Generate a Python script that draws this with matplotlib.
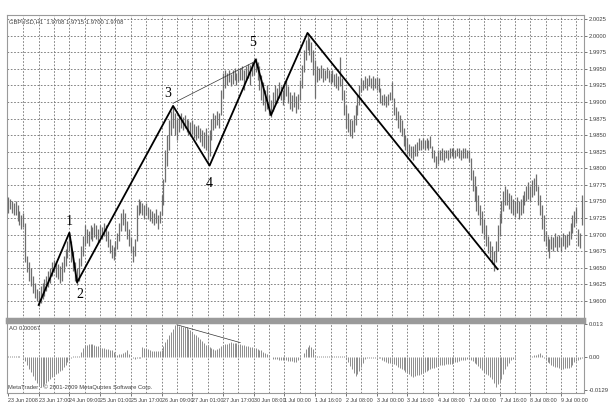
import numpy as np
import matplotlib
matplotlib.use("Agg")
import matplotlib.pyplot as plt

# GBPUSD H1 bars, prices in pips (1.9735 -> 19735)
highs = [
    19757, 19754, 19751, 19747, 19751, 19744, 19736, 19729, 19733, 19718,
    19668, 19658, 19649, 19638, 19627, 19618, 19615, 19623, 19627, 19633,
    19638, 19645, 19649, 19658, 19661, 19658, 19655, 19652, 19658, 19668,
    19679, 19691, 19703, 19691, 19676, 19658, 19649, 19664, 19683, 19698,
    19714, 19709, 19706, 19715, 19712, 19718, 19714, 19709, 19715, 19712,
    19718, 19714, 19706, 19694, 19685, 19682, 19691, 19703, 19718, 19733,
    19739, 19733, 19721, 19709, 19697, 19683, 19694, 19744, 19754, 19751,
    19748, 19744, 19747, 19742, 19739, 19736, 19733, 19739, 19730, 19736,
    19759, 19784, 19827, 19850, 19872, 19887, 19893, 19884, 19875, 19880,
    19884, 19878, 19881, 19875, 19872, 19869, 19872, 19866, 19863, 19865,
    19860, 19857, 19854, 19860, 19850, 19857, 19875, 19884, 19880, 19887,
    19884, 19918, 19944, 19948, 19944, 19948, 19942, 19948, 19951, 19944,
    19948, 19951, 19954, 19948, 19954, 19957, 19955, 19960, 19963, 19966,
    19960, 19954, 19940, 19930, 19918, 19925, 19910, 19903, 19915, 19925,
    19921, 19930, 19924, 19918, 19927, 19933, 19924, 19915, 19910, 19915,
    19909, 19912, 19933, 19955, 19978, 19993, 20004, 19996, 19990, 19978,
    19963, 19954, 19951, 19955, 19951, 19948, 19952, 19948, 19944, 19948,
    19942, 19944, 19939, 19968, 19936, 19918, 19895, 19884, 19875, 19872,
    19880, 19895, 19910, 19925, 19936, 19933, 19939, 19936, 19940, 19936,
    19939, 19936, 19937, 19936, 19921, 19910, 19912, 19909, 19912, 19915,
    19930, 19906, 19893, 19887, 19880, 19872, 19860, 19850, 19845, 19837,
    19834, 19833, 19836, 19839, 19845, 19842, 19846, 19843, 19845, 19842,
    19848, 19834, 19827, 19819, 19827, 19827, 19830, 19827, 19828, 19827,
    19830, 19831, 19830, 19828, 19831, 19830, 19828, 19830, 19831, 19828,
    19827, 19815, 19797, 19789, 19774, 19759, 19744, 19736, 19724, 19714,
    19698, 19691, 19683, 19676, 19691, 19714, 19733, 19751, 19766, 19774,
    19769, 19763, 19759, 19754, 19751, 19757, 19751, 19754, 19759, 19766,
    19774, 19779, 19774, 19782, 19785, 19791, 19774, 19759, 19744, 19729,
    19706, 19698, 19694, 19698, 19697, 19703, 19698, 19700, 19697, 19703,
    19700, 19701, 19706, 19718, 19729, 19736, 19741, 19709, 19703, 19759,
]
lows = [
    19733, 19739, 19733, 19729, 19730, 19721, 19715, 19709, 19712, 19658,
    19643, 19630, 19623, 19612, 19605, 19600, 19593, 19597, 19603, 19608,
    19615, 19621, 19627, 19638, 19643, 19636, 19633, 19627, 19630, 19643,
    19652, 19664, 19676, 19658, 19645, 19630, 19624, 19630, 19653, 19668,
    19683, 19688, 19683, 19694, 19691, 19697, 19694, 19688, 19697, 19694,
    19698, 19691, 19682, 19673, 19664, 19661, 19668, 19679, 19691, 19706,
    19714, 19706, 19694, 19683, 19673, 19658, 19668, 19691, 19730, 19733,
    19729, 19724, 19729, 19724, 19721, 19718, 19714, 19718, 19709, 19718,
    19729, 19744, 19779, 19804, 19827, 19850, 19860, 19850, 19842, 19854,
    19860, 19857, 19860, 19854, 19850, 19848, 19851, 19845, 19842, 19845,
    19839, 19834, 19830, 19827, 19812, 19819, 19842, 19857, 19860, 19865,
    19860, 19880, 19906, 19921, 19925, 19930, 19924, 19927, 19933, 19925,
    19930, 19933, 19933, 19918, 19933, 19936, 19925, 19939, 19940, 19945,
    19933, 19918, 19903, 19895, 19887, 19890, 19880, 19878, 19887, 19896,
    19899, 19906, 19903, 19895, 19903, 19909, 19899, 19890, 19887, 19893,
    19884, 19890, 19903, 19921, 19945, 19963, 19978, 19971, 19960, 19940,
    19906, 19930, 19933, 19936, 19930, 19933, 19936, 19930, 19927, 19930,
    19924, 19921, 19918, 19924, 19903, 19880, 19860, 19854, 19848, 19845,
    19854, 19865, 19880, 19895, 19915, 19918, 19921, 19918, 19924, 19921,
    19918, 19921, 19918, 19915, 19898, 19896, 19895, 19893, 19896, 19903,
    19903, 19880, 19872, 19860, 19854, 19848, 19834, 19827, 19822, 19819,
    19815, 19812, 19818, 19819, 19827, 19827, 19830, 19827, 19830, 19827,
    19830, 19815, 19809, 19801, 19806, 19812, 19812, 19809, 19815, 19812,
    19815, 19818, 19816, 19815, 19818, 19815, 19812, 19815, 19816, 19815,
    19809, 19782, 19766, 19751, 19736, 19729, 19714, 19703, 19694, 19683,
    19673, 19664, 19655, 19645, 19658, 19676, 19698, 19718, 19736, 19744,
    19744, 19739, 19733, 19730, 19727, 19733, 19724, 19729, 19733, 19744,
    19751, 19754, 19751, 19757, 19759, 19766, 19744, 19729, 19709, 19691,
    19683, 19676, 19665, 19679, 19676, 19682, 19676, 19682, 19676, 19683,
    19679, 19682, 19685, 19694, 19703, 19712, 19718, 19683, 19680, 19714,
]

# Awesome Oscillator, units of 1e-4
ao = [
    6, 5, 6, 5, 4, 5, 3, 2,
    -4, -15, -30, -45, -60, -75, -88, -100, -110, -117,
    -112, -106, -100, -93, -86,
    -80, -74, -68, -62, -56, -51,
    -40, -30, -20, -12,
    -3, 3, 5, 4, 6,
    20, 35, 47,
    49, 50, 51,
    50, 48, 45, 42, 39,
    37, 35, 33, 31, 29, 27,
    20, 12,
    10, 11, 12,
    17, 22, 27,
    14, 0,
    -5, -6, -4, -5, -3,
    39,
    36, 33, 30, 27,
    26, 25, 25, 26, 26, 27,
    42, 58,
    72, 85, 97,
    112, 127,
    126, 124, 122, 120, 119, 117,
    111, 105, 98, 92, 86,
    78, 70, 62, 55, 47,
    43, 39, 35, 31, 27,
    32, 37, 42, 47,
    50, 53, 56, 58,
    57, 55, 54, 52, 51,
    49, 47, 45, 43, 41, 39,
    37, 34, 32, 29, 27,
    22, 17, 12, 8,
    0, -8,
    -8, -9, -10, -10, -11, -11, -12,
    -14, -15, -17, -18, -20,
    -13, -6, 0,
    15, 31, 40, 47, 40, 31, 8,
    5, 6, 4, 5, 6, 5, 4, 6, 5, 4, 5, 6, 4, 5, 3,
    -8, -20, -35, -48, -62, -74,
    -65, -55, -39, -22, -8,
    -4, -3, -2, -3, -2, -3, -4, -3,
    -10, -15, -20,
    -22, -24, -26, -28, -31,
    -37, -42, -47, -52, -58,
    -63, -68, -73, -78,
    -75, -72, -69, -66,
    -62, -58, -54, -51, -47,
    -44, -41, -37, -34, -31,
    -31, -30, -29, -28, -28, -27,
    -24, -21, -18, -15, -12,
    -11, -10, -9, -8,
    -12, -17, -22, -27,
    -35, -43, -51,
    -58, -65, -72, -79, -86,
    -101, -117,
    -106, -96, -86,
    -66, -47,
    -36, -24, -12,
    -6, -2, 1, -1, 0, 1, -1, 1,
    2, 3, 4,
    7, 10, 12, 16,
    8, -2, -12,
    -18, -25, -31,
    -34, -37, -40, -44, -47,
    -46, -44, -42, -41, -39,
    -30, -20,
    -15, -11, -8, -5,
]

# wave pivots (bar index, price)
wave_bars = [16, 32, 36, 86, 105, 129, 137, 156, 255]
wave_prices = [1.9594, 1.9703, 1.9628, 1.9894, 1.9804, 1.9964, 1.9880, 2.0004, 1.9648]
wave_labels = {1: "1", 2: "2", 3: "3", 4: "4", 5: "5"}

div_bars = [86, 128]
div_prices = [1.9898, 1.9960]
ao_div_bars = [88, 121]
ao_div_vals = [0.0127, 0.0057]

date_labels = ["23 Jun 2008", "23 Jun 17:00", "24 Jun 09:00", "25 Jun 01:00", "25 Jun 17:00",
               "26 Jun 09:00", "27 Jun 01:00", "27 Jun 17:00", "30 Jun 08:00", "1 Jul 00:00",
               "1 Jul 16:00", "2 Jul 08:00", "3 Jul 00:00", "3 Jul 16:00", "4 Jul 08:00",
               "7 Jul 00:00", "7 Jul 16:00", "8 Jul 08:00", "9 Jul 00:00"]
price_ticks = [1.9600, 1.9625, 1.9650, 1.9675, 1.9700, 1.9725, 1.9750, 1.9775, 1.9800,
               1.9825, 1.9850, 1.9875, 1.9900, 1.9925, 1.9950, 1.9975, 2.0000, 2.0025]

SMALL = ["Liberation Sans Narrow", "Liberation Sans", "DejaVu Sans"]
FS = 4.2

W, H = 616, 408
fig = plt.figure(figsize=(W / 100, H / 100), dpi=100)
fig.patch.set_facecolor("white")

L, R = 7 / W, 584 / W
ax = fig.add_axes([L, 1 - 319 / H, R - L, (319 - 15) / H])
ax2 = fig.add_axes([L, 1 - 393 / H, R - L, (393 - 322) / H], sharex=ax)

grid_kw = dict(color="#707070", lw=0.6, ls=(0, (2, 2)))
tick_col = "#404040"

# price bars
x = np.arange(len(highs))
hi = np.array(highs) / 10000
lo = np.array(lows) / 10000
ax.vlines(x, lo, hi, color="#6e6e6e", lw=0.9, zorder=3)

ax.plot(wave_bars, wave_prices, color="black", lw=1.3, zorder=5)
ax.plot(div_bars, div_prices, color="#333333", lw=0.5, zorder=5)

label_offsets = {1: (0, 8), 2: (2, -9), 3: (-4, 9), 4: (0, -13), 5: (-2, 12)}
for k, txt in wave_labels.items():
    ax.annotate(txt, (wave_bars[k], wave_prices[k]), xytext=label_offsets[k],
                textcoords="offset points", ha="center", va="center",
                fontsize=10, family="Liberation Serif", color="black", zorder=6)

ax.set_xlim(-0.5, 300)
ax.set_ylim(1.95728, 2.0031)
ax.set_yticks(price_ticks)
ax.set_yticklabels([f"{p:.4f}" for p in price_ticks], family=SMALL)
ax.yaxis.tick_right()
ax.tick_params(axis="y", labelsize=FS, colors=tick_col, length=2, width=0.5, pad=1.5)
ax.tick_params(axis="x", length=0, labelbottom=False)
for yv in price_ticks:
    ax.axhline(yv, zorder=1, **grid_kw)

ax.text(0.004, 0.985, "GBPUSD,H1  1.9708 1.9715 1.9700 1.9708", transform=ax.transAxes,
        fontsize=FS, family=SMALL, color=tick_col, va="top", ha="left", zorder=6)

# AO pane
xa = np.arange(len(ao))
av = np.array(ao) / 10000
ax2.vlines(xa, 0, av, color="#8c8c8c", lw=0.7, zorder=3)
ax2.plot(ao_div_bars, ao_div_vals, color="#333333", lw=0.5, zorder=5)
ax2.set_ylim(-0.0141, 0.0138)
ax2.set_yticks([0.013, 0.0, -0.0129])
ax2.set_yticklabels(["0.013", "0.00", "-0.0129"], family=SMALL)
ax2.yaxis.tick_right()
ax2.tick_params(axis="y", labelsize=FS, colors=tick_col, length=2, width=0.5, pad=1.5)
ax2.text(0.004, 0.95, "AO 0.00067", transform=ax2.transAxes, fontsize=FS, family=SMALL,
         color=tick_col, va="top", ha="left")
ax2.text(0.002, 0.04, "MetaTrader - \u00a9 2001-2009 MetaQuotes Software Corp.",
         transform=ax2.transAxes, fontsize=FS, family=SMALL, color=tick_col,
         va="bottom", ha="left")

label_pos = np.arange(len(date_labels)) * 16
ax2.set_xticks(label_pos)
ax2.set_xticklabels(date_labels, ha="left", family=SMALL)
ax2.tick_params(axis="x", labelsize=3.9, colors=tick_col, length=2, width=0.5, pad=1.5)

for b in range(8, 300, 8):
    ax.axvline(b, zorder=1, **grid_kw)
    ax2.axvline(b, zorder=1, **grid_kw)

for a in (ax, ax2):
    a.set_facecolor("white")
    for s in a.spines.values():
        s.set_color("#9a9a9a")
        s.set_linewidth(0.8)
ax.spines["bottom"].set_linewidth(2.5)
ax2.spines["top"].set_linewidth(2.5)

fig.savefig("out.png", dpi=100, facecolor="white")
